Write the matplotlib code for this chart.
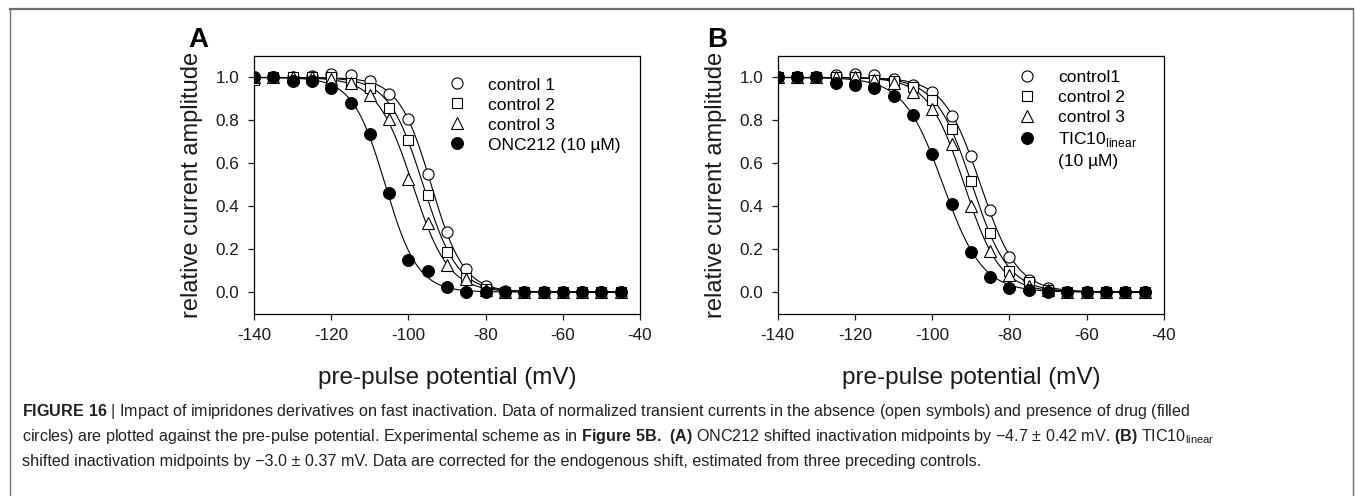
import numpy as np
import matplotlib
matplotlib.use("Agg")
import matplotlib.pyplot as plt
from matplotlib.lines import Line2D
from matplotlib import font_manager

# figure size in pixels (dpi 100)
W, H = 1355, 496

# pre-pulse potentials (mV)
voltage = [-140, -135, -130, -125, -120, -115, -110, -105, -100, -95,
           -90, -85, -80, -75, -70, -65, -60, -55, -50, -45]

# panel A - ONC212
a_control1 = [1.0, 1.0, 1.0, 1.005, 1.015, 1.01, 0.985, 0.925, 0.805, 0.55,
              0.28, 0.107, 0.03, 0.005, 0.0, 0.0, 0.0, 0.0, 0.0, 0.0]
a_control2 = [0.99, 1.0, 1.0, 1.0, 1.0, 0.975, 0.949, 0.859, 0.708, 0.452,
              0.187, 0.065, 0.015, 0.0, 0.0, 0.0, 0.0, 0.0, 0.0, 0.0]
a_control3 = [1.0, 1.0, 1.0, 1.0, 0.995, 0.975, 0.918, 0.806, 0.525, 0.321,
              0.127, 0.06, 0.01, 0.0, 0.0, 0.0, 0.0, 0.0, 0.0, 0.0]
a_drug = [1.0, 1.0, 0.984, 0.984, 0.949, 0.879, 0.736, 0.46, 0.15, 0.099,
          0.023, 0.0, 0.0, 0.0, 0.0, 0.0, 0.0, 0.0, 0.0, 0.0]

# panel B - TIC10 linear
b_control1 = [1.0, 1.0, 1.0, 1.01, 1.014, 1.01, 0.995, 0.965, 0.93, 0.82,
              0.636, 0.383, 0.163, 0.057, 0.02, 0.0, 0.0, 0.0, 0.0, 0.0]
b_control2 = [1.0, 1.0, 1.0, 1.0, 1.0, 0.99, 0.984, 0.957, 0.895, 0.758,
              0.519, 0.274, 0.10, 0.045, 0.01, 0.0, 0.0, 0.0, 0.0, 0.0]
b_control3 = [1.0, 1.0, 1.0, 1.0, 1.0, 0.99, 0.975, 0.93, 0.851, 0.69,
              0.403, 0.19, 0.078, 0.03, 0.01, 0.0, 0.0, 0.0, 0.0, 0.0]
b_drug = [1.0, 1.0, 1.0, 0.975, 0.964, 0.953, 0.913, 0.823, 0.643, 0.409,
          0.186, 0.07, 0.019, 0.01, 0.0, 0.0, 0.0, 0.0, 0.0, 0.0]

a_labels = ["control 1", "control 2", "control 3", "ONC212 (10 \u00b5M)"]
b_labels = ["control1", "control 2", "control 3", "TIC10$_{\\mathrm{linear}}$"]

xticks = [-140, -120, -100, -80, -60, -40]
yticks = [0.0, 0.2, 0.4, 0.6, 0.8, 1.0]

caption_lines = [
    "$\\mathbf{FIGURE\\ 16}$ | Impact of imipridones derivatives on fast inactivation. "
    "Data of normalized transient currents in the absence (open symbols) and presence of drug (filled",
    "circles) are plotted against the pre-pulse potential. Experimental scheme as in "
    "$\\mathbf{Figure\\ 5B.\\ (A)}$ ONC212 shifted inactivation midpoints by \u22124.7 \u00b1 0.42 mV. "
    "$\\mathbf{(B)}$ TIC10$_{\\mathrm{linear}}$",
    "shifted inactivation midpoints by \u22123.0 \u00b1 0.37 mV. Data are corrected for the "
    "endogenous shift, estimated from three preceding controls.",
]

names = {f.name for f in font_manager.fontManager.ttflist}
cap_family = "Liberation Sans Narrow" if "Liberation Sans Narrow" in names else "Liberation Sans"
cap_size = 13.6 if cap_family == "Liberation Sans Narrow" else 11.6

plt.rcParams["font.family"] = ["Liberation Sans", "DejaVu Sans"]
plt.rcParams["axes.unicode_minus"] = False
plt.rcParams["mathtext.fontset"] = "custom"
plt.rcParams["mathtext.rm"] = "Liberation Sans"
plt.rcParams["mathtext.bf"] = cap_family + ":bold"


def boltzmann(v, vh, k):
    return 1.0 / (1.0 + np.exp((np.asarray(v, float) - vh) / k))


def fit_boltzmann(v, y):
    # brute force least squares over half-inactivation voltage and slope
    v = np.asarray(v, float)
    y = np.asarray(y, float)
    vh_grid = np.arange(-130, -60, 0.1)
    k_grid = np.arange(2, 10, 0.05)
    VH, K = np.meshgrid(vh_grid, k_grid, indexing="ij")
    pred = 1.0 / (1.0 + np.exp((v[None, None, :] - VH[..., None]) / K[..., None]))
    sse = ((pred - y) ** 2).sum(-1)
    i, j = np.unravel_index(sse.argmin(), sse.shape)
    return vh_grid[i], k_grid[j]


fig = plt.figure(figsize=(W / 100, H / 100), dpi=100)


def px_axes(left, top, right, bottom):
    return fig.add_axes([left / W, 1 - bottom / H, (right - left) / W, (bottom - top) / H])


ax_a = px_axes(254, 56, 640, 313.5)
ax_b = px_axes(777.7, 56, 1164, 313.5)

markers = ["o", "s", "^", "o"]
sizes = [8, 7, 8, 8.5]
v_fine = np.linspace(-140, -45, 400)


def draw_panel(ax, series, labels):
    handles = []
    for y in series:
        vh, k = fit_boltzmann(voltage, y)
        ax.plot(v_fine, boltzmann(v_fine, vh, k), color="black", lw=0.8, zorder=2)
    for n, (y, m, ms, lab) in enumerate(zip(series, markers, sizes, labels)):
        face = "black" if n == 3 else "white"
        ax.plot(voltage, y, linestyle="none", marker=m, ms=ms, mfc=face,
                mec="black", mew=0.8, zorder=3 + n)
        handles.append(Line2D([], [], linestyle="none", marker=m, ms=ms, mfc=face,
                              mec="black", mew=0.8, label=lab))
    return handles


def style_axes(ax):
    ax.set_xlim(-140, -40)
    ax.set_ylim(-0.1, 1.1)
    ax.set_xticks(xticks)
    ax.set_yticks(yticks)
    ax.set_yticklabels(["%.1f" % t for t in yticks])
    for s in ax.spines.values():
        s.set_linewidth(0.9)
    ax.tick_params(direction="out", length=4.5, width=0.9, top=False, right=False,
                   labelsize=12.3, pad=6, colors="#1a1a1a")
    ax.set_xlabel("pre-pulse potential (mV)", fontsize=17.5, labelpad=17, color="#1a1a1a")
    ax.set_ylabel("relative current amplitude", fontsize=17, labelpad=9, color="#1a1a1a")


h_a = draw_panel(ax_a, [a_control1, a_control2, a_control3, a_drug], a_labels)
h_b = draw_panel(ax_b, [b_control1, b_control2, b_control3, b_drug], b_labels)
h_b.append(Line2D([], [], linestyle="none", label="(10 \u00b5M)"))

for ax in (ax_a, ax_b):
    style_axes(ax)

leg_kw = dict(frameon=False, fontsize=12.5, handlelength=1.0, handletextpad=1.28,
              labelspacing=0.28, borderpad=0, borderaxespad=0, loc="upper left")
ax_a.legend(handles=h_a, bbox_to_anchor=(0.503, 0.917), **leg_kw)
ax_b.legend(handles=h_b, bbox_to_anchor=(0.623, 0.945), **leg_kw)

# panel letters
fig.text(188 / W, 1 - 47 / H, "A", fontsize=20, fontweight="bold", va="baseline")
fig.text(707 / W, 1 - 47 / H, "B", fontsize=20, fontweight="bold", va="baseline")

# caption
for line, base in zip(caption_lines, [416, 441, 466]):
    fig.text(22 / W, 1 - base / H, line, fontsize=cap_size, family=cap_family,
             va="baseline", color="#231f20")

# outer frame of the figure box
frame_col = "#6e6e6e"
fig.add_artist(Line2D([9.5 / W, 1352.5 / W], [1 - 8.5 / H, 1 - 8.5 / H],
                      transform=fig.transFigure, color=frame_col, lw=1.6))
fig.add_artist(Line2D([9.5 / W, 9.5 / W], [1 - 8.5 / H, 0], transform=fig.transFigure,
                      color=frame_col, lw=1.0))
fig.add_artist(Line2D([1352.5 / W, 1352.5 / W], [1 - 8.5 / H, 0], transform=fig.transFigure,
                      color=frame_col, lw=1.0))

fig.savefig("out.png", dpi=100)
